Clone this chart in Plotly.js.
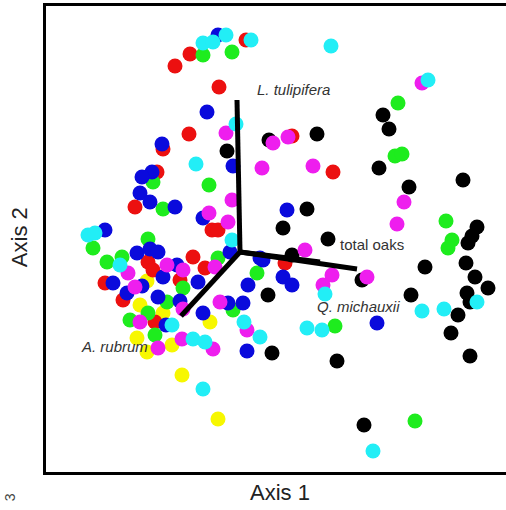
<!DOCTYPE html>
<html>
<head>
<meta charset="utf-8">
<script src="https://cdn.plot.ly/plotly-3.0.1.min.js"></script>
<style>
html,body{margin:0;padding:0;background:#fff;}
#chart{width:506px;height:510px;}
</style>
</head>
<body>
<div id="chart"></div>
<script>
// Ordination scores (axis units x100)
const yellowX = [-93,-100,-77,-30,-103,-93,-68,-58,-22];
const yellowY = [-29,-53,-61,-70,-86,-100,-93,-123,-167];

const redX = [-65,-50,-21,6,-51,-77,52,93,-83,-105,-28,-22,-92,-87,-47,-35,-135,-60,-117,-85,45];
const redY = [186,198,165,212,118,103,116,80,80,45,22,22,-10,-18,-5,-16,-31,-28,-48,-70,-11];

const blackX = [-13,29,77,143,149,139,223,169,67,43,237,232,228,88,52,185,226,235,248,227,230,122,28,171,218,211,230,32,97,124];
const blackY = [101,112,118,137,123,84,72,65,43,24,25,16,9,13,-3,-15,-11,-25,-36,-41,-50,-28,-43,-43,-63,-81,-104,-101,-109,-173];

const greenX = [-37,-8,158,155,162,-87,-31,-77,-147,-92,-133,-118,-22,-57,-73,-92,-110,-7,17,206,212,208,95,175,-85];
const greenY = [197,200,149,96,98,70,67,43,4,13,-10,-5,-6,-36,-50,-61,-68,-58,-21,31,12,4,-74,-169,-83];

const blueX = [-22,-33,-78,-7,-88,-98,-100,-90,-65,-37,-10,-135,-103,-90,-82,-63,-77,-42,-127,-98,-113,-82,-60,-37,-12,3,8,20,47,23,43,52,137,7,-74];
const blueY = [217,140,108,86,80,75,59,50,45,34,0,22,-1,3,0,-13,-25,-30,-31,-34,-41,-45,-49,-61,-51,-51,-33,-6,42,-8,-25,-33,-71,-99,-73];

const magentaX = [-14,33,48,22,73,164,157,182,-8,-31,-12,65,-73,-57,-25,-112,-105,-20,-57,-100,7,-82,-58,-27,92,83,127];
const magentaY = [119,109,115,84,86,50,28,169,52,39,30,2,-13,-18,-15,-21,-35,-50,-57,-70,-78,-96,-87,-97,-23,-33,-25];

const cyanX = [-37,-27,-14,11,91,188,-4,-44,-8,-152,-145,-120,85,237,204,182,67,82,4,20,-68,-47,-35,-37,133];
const cyanY = [209,210,217,212,206,172,128,88,12,17,19,-13,-42,-50,-57,-59,-76,-78,-70,-85,-73,-87,-90,-137,-199];

// Biplot vectors (from origin)
const vectorNames = ["L. tulipifera", "total oaks", "Q. michauxii", "A. rubrum"];
const vectorX = [-3, 117, 80, -59];
const vectorY = [152, -17, -10, -64];
const vectorLabelX = [15, 98, 75, -161];
const vectorLabelY = [163, 8, -54, -94];
const vectorItalic = [true, false, true, true];

const groups = [
  {x: yellowX, y: yellowY, color: '#f7f700'},
  {x: redX, y: redY, color: '#ec1010'},
  {x: blackX, y: blackY, color: '#000000'},
  {x: greenX, y: greenY, color: '#1eec1e'},
  {x: blueX, y: blueY, color: '#0a0adc'},
  {x: magentaX, y: magentaY, color: '#ee1eee'},
  {x: cyanX, y: cyanY, color: '#22eef6'}
];

const traces = groups.map(g => ({
  type: 'scatter', mode: 'markers', x: g.x, y: g.y,
  marker: {size: 15, color: g.color, line: {width: 0}},
  hoverinfo: 'skip', showlegend: false
}));

vectorNames.forEach((n, i) => {
  traces.push({
    type: 'scatter', mode: 'lines', x: [0, vectorX[i]], y: [0, vectorY[i]],
    line: {color: '#000', width: 5}, hoverinfo: 'skip', showlegend: false
  });
});

const annotations = vectorNames.map((n, i) => ({
  x: vectorLabelX[i], y: vectorLabelY[i], xref: 'x', yref: 'y',
  text: vectorItalic[i] ? '<i>' + n + '</i>' : n,
  showarrow: false, xanchor: 'left', yanchor: 'middle',
  font: {family: 'Liberation Sans, Arial, sans-serif', size: 15, color: '#333'}
}));

annotations.push({
  x: 0.509, y: -0.043, xref: 'paper', yref: 'paper', text: 'Axis 1',
  showarrow: false, xanchor: 'center', yanchor: 'middle',
  font: {family: 'Liberation Sans, Arial, sans-serif', size: 22, color: '#222'}
});
annotations.push({
  x: -0.0587, y: 0.504, xref: 'paper', yref: 'paper', text: 'Axis 2',
  showarrow: false, xanchor: 'center', yanchor: 'middle', textangle: -90,
  font: {family: 'Liberation Sans, Arial, sans-serif', size: 22, color: '#222'}
});
annotations.push({
  x: -0.078, y: -0.054, xref: 'paper', yref: 'paper', text: '3',
  showarrow: false, xanchor: 'center', yanchor: 'middle', textangle: -90,
  font: {family: 'Liberation Sans, Arial, sans-serif', size: 14, color: '#444'}
});

const layout = {
  width: 506, height: 510,
  margin: {l: 46, r: 0, t: 6, b: 38, pad: 0},
  paper_bgcolor: '#fff', plot_bgcolor: '#fff',
  showlegend: false,
  xaxis: {range: [-194, 266], showgrid: false, zeroline: false, showticklabels: false,
          ticks: '', showline: true, mirror: true, linecolor: '#000', linewidth: 3, fixedrange: true},
  yaxis: {range: [-220, 246], showgrid: false, zeroline: false, showticklabels: false,
          ticks: '', showline: true, mirror: false, linecolor: '#000', linewidth: 3, fixedrange: true},
  annotations: annotations
};

Plotly.newPlot('chart', traces, layout, {staticPlot: true, displayModeBar: false});
</script>
</body>
</html>
